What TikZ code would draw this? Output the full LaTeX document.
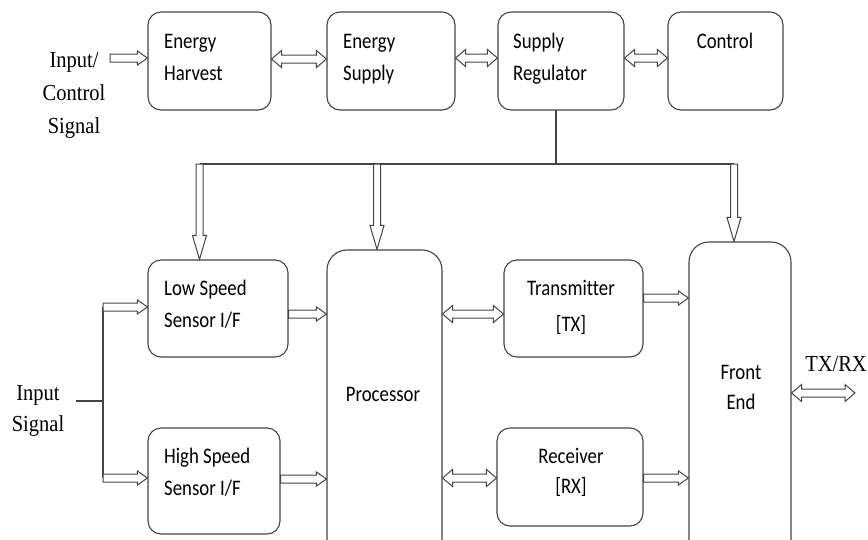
\documentclass[tikz,border=0pt]{standalone}
\usepackage{graphicx}
\usepackage{fontspec}
\setmainfont{Liberation Serif}
\newfontfamily\calfont[Ligatures=NoCommon]{Carlito}
\usetikzlibrary{calc}
\definecolor{lc}{RGB}{68,68,68}
\newcommand{\boxl}[1]{\scalebox{1}[1.18]{\begin{tabular}{@{}l@{}}#1\end{tabular}}}
\newcommand{\boxc}[1]{\scalebox{1}[1.18]{\begin{tabular}{@{}c@{}}#1\end{tabular}}}
\newcommand{\serc}[1]{\scalebox{1}[1.12]{\begin{tabular}{@{}c@{}}#1\end{tabular}}}
\tikzset{
  box/.style={draw=lc, line width=1.1pt, rounded corners=13pt, minimum width=#1, inner sep=0pt},
  ct/.style={font=\calfont\fontsize{18.8}{27}\selectfont, text=black, inner sep=0pt},
  st/.style={font=\fontsize{20.5}{29.5}\selectfont, text=black, inner sep=0pt},
  wire/.style={draw=lc, line width=1.1pt},
  sarr/.style n args={3}{draw=lc, fill=white, line width=1pt, line join=miter,
    to path={let \p1=(\tikztostart), \p2=(\tikztotarget),
      \n1={atan2(\y2-\y1,\x2-\x1)}, \n2={veclen(\x2-\x1,\y2-\y1)} in
      ($(\p1)+(\n1+90:#1pt)$) -- ($(\p1)+(\n1:{(\n2-#3)*1pt})+(\n1+90:#1pt)$)
      -- ($(\p1)+(\n1:{(\n2-#3)*1pt})+(\n1+90:#2pt)$) -- (\p2)
      -- ($(\p1)+(\n1:{(\n2-#3)*1pt})+(\n1-90:#2pt)$)
      -- ($(\p1)+(\n1:{(\n2-#3)*1pt})+(\n1-90:#1pt)$)
      -- ($(\p1)+(\n1-90:#1pt)$) -- cycle}},
  darr/.style n args={3}{draw=lc, fill=white, line width=1pt, line join=miter,
    to path={let \p1=(\tikztostart), \p2=(\tikztotarget),
      \n1={atan2(\y2-\y1,\x2-\x1)}, \n2={veclen(\x2-\x1,\y2-\y1)} in
      (\p1) -- ($(\p1)+(\n1:#3pt)+(\n1+90:#2pt)$)
      -- ($(\p1)+(\n1:#3pt)+(\n1+90:#1pt)$)
      -- ($(\p1)+(\n1:{(\n2-#3)*1pt})+(\n1+90:#1pt)$)
      -- ($(\p1)+(\n1:{(\n2-#3)*1pt})+(\n1+90:#2pt)$) -- (\p2)
      -- ($(\p1)+(\n1:{(\n2-#3)*1pt})+(\n1-90:#2pt)$)
      -- ($(\p1)+(\n1:{(\n2-#3)*1pt})+(\n1-90:#1pt)$)
      -- ($(\p1)+(\n1:#3pt)+(\n1-90:#1pt)$)
      -- ($(\p1)+(\n1:#3pt)+(\n1-90:#2pt)$) -- cycle}},
  harrow/.style={sarr={4}{7}{10}},
  hdbl/.style={darr={4}{8.5}{10}},
  varrow/.style={sarr={3.5}{7}{24}},
}
\begin{document}
\begin{tikzpicture}[x=1pt,y=-1pt]
\useasboundingbox (0,0) rectangle (868,539);
\clip (0,0) rectangle (868,539);
\fill[white] (0,0) rectangle (868,539);

% top row boxes
\node[box=123pt, minimum height=98pt] (eh) at (209.5,61) {};
\node[box=128pt, minimum height=98pt] (es) at (391,61) {};
\node[box=126pt, minimum height=98pt] (sr) at (561,61) {};
\node[box=115pt, minimum height=98pt] (ctl) at (725.5,61) {};

% bottom boxes
\node[box=140pt, minimum height=97pt] (ls) at (218,308.5) {};
\node[box=132pt, minimum height=106pt] (hs) at (214,481) {};
\node[box=115pt, minimum height=312pt, rounded corners=20pt] (proc) at (384.5,406) {};
\node[box=139pt, minimum height=97pt] (tx) at (573.5,308.5) {};
\node[box=146pt, minimum height=98pt] (rx) at (570,477) {};
\node[box=102pt, minimum height=320pt, rounded corners=20pt] (fe) at (740,402) {};

% texts
\node[ct, anchor=west] (teh) at (164,58) {\boxl{Energy\\Harvest}};
\node[ct, anchor=west] (tes) at (343,58) {\boxl{Energy\\Supply}};
\node[ct, anchor=west] (tsr) at (513,58.5) {\boxl{Supply\\Regulator}};
\node[ct] (tctl) at (725,42) {\boxc{Control}};
\node[ct, anchor=west] (tls) at (164,305.5) {\boxl{Low Speed\\Sensor I/F}};
\node[ct, anchor=west] (ths) at (164,473.5) {\boxl{High Speed\\Sensor I/F}};
\node[ct] (tproc) at (383,395) {\boxc{Processor}};
\node[ct] (ttx) at (571,307) {\boxc{Transmitter\\[3.4pt][TX]}};
\node[ct] (trx) at (571,472) {\boxc{Receiver\\[-1.7pt][RX]}};
\node[ct] (tfe) at (741,388) {\boxc{Front\\[-1.7pt]End}};
\node[st] (tin) at (74,94) {\serc{Input/\\Control\\Signal}};
\node[st] (tis) at (38,409.5) {\serc{Input\\[-1.8pt]Signal}};
\node[st] (ttr) at (836,365) {\serc{TX/RX}};

% top arrows
\coordinate (inA) at (110,58);
\draw[harrow] (inA) to (eh.west |- inA);
\draw[hdbl] (eh.east |- 0,59) to (es.west |- 0,59);
\draw[hdbl] (es.east |- 0,58) to (sr.west |- 0,58);
\draw[hdbl] (sr.east |- 0,58) to (ctl.west |- 0,58);

% bus
\coordinate (srb) at (556,110);
\coordinate (busL) at (199.5,164);
\coordinate (busP) at (377,164);
\coordinate (busR) at (734,164);
\draw[wire] (srb) -- (srb |- busL);
\draw[wire] (busL) -- (busR);
\draw[varrow] (busL) to (ls.north -| busL);
\draw[varrow] (busP) to (proc.north -| busP);
\draw[varrow] (busR) to (fe.north -| busR);

% input signal tree
\coordinate (isA) at (76,401);
\coordinate (isB) at (103,401);
\coordinate (isT) at (103,307);
\coordinate (isD) at (103,478);
\draw[wire] (isA) -- (isB);
\draw[wire] (isT) -- (isD);
\draw[harrow] (isT) to (ls.west |- isT);
\draw[harrow] (isD) to (hs.west |- isD);

% sensor -> processor
\draw[harrow] (ls.east |- 0,314) to (proc.west |- 0,314);
\draw[harrow] (hs.east |- 0,479) to (proc.west |- 0,479);

% processor <-> tx/rx
\draw[hdbl] (proc.east |- 0,314) to (tx.west |- 0,314);
\draw[hdbl] (proc.east |- 0,478) to (rx.west |- 0,478);

% tx/rx -> front end
\draw[harrow] (tx.east |- 0,298) to (fe.west |- 0,298);
\draw[harrow] (rx.east |- 0,478) to (fe.west |- 0,478);

% front end <-> antenna
\coordinate (trE) at (855,393);
\draw[hdbl] (fe.east |- trE) to (trE);
\end{tikzpicture}
\end{document}
